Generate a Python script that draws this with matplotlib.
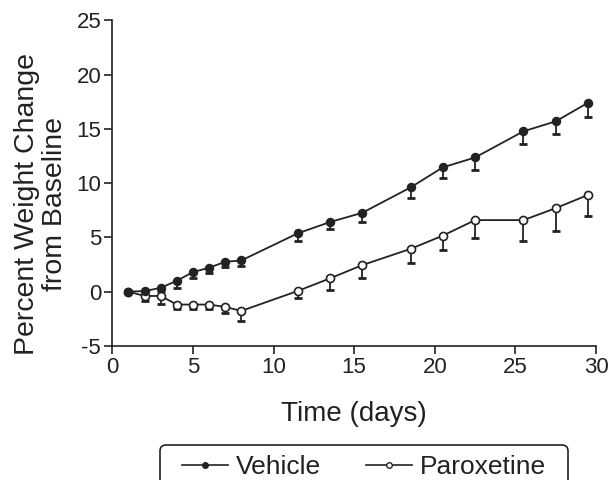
import matplotlib
matplotlib.use("Agg")
import matplotlib.pyplot as plt
from matplotlib.lines import Line2D
from matplotlib.patches import FancyBboxPatch
from matplotlib.transforms import IdentityTransform

plt.rcParams['font.family'] = ['Liberation Sans', 'DejaVu Sans']
plt.rcParams['axes.unicode_minus'] = False

days = [1, 2, 3, 4, 5, 6, 7, 8, 11.5, 13.5, 15.5, 18.5, 20.5, 22.5, 25.5, 27.5, 29.5]
vehicle = [0.0, 0.05, 0.35, 1.0, 1.8, 2.2, 2.75, 2.87, 5.37, 6.41, 7.26, 9.6, 11.45, 12.36, 14.77, 15.69, 17.4]
vehicle_err = [0.0, 0.0, 0.3, 0.7, 0.58, 0.49, 0.52, 0.49, 0.73, 0.67, 0.8, 1.0, 0.98, 1.13, 1.13, 1.13, 1.31]
parox = [0.0, -0.4, -0.4, -1.19, -1.19, -1.19, -1.41, -1.78, 0.06, 1.22, 2.44, 3.94, 5.16, 6.59, 6.59, 7.69, 8.91]
parox_err = [0.0, 0.46, 0.7, 0.43, 0.43, 0.37, 0.55, 0.89, 0.67, 1.07, 1.22, 1.31, 1.34, 1.62, 1.95, 2.14, 1.95]

xticks = [0, 5, 10, 15, 20, 25, 30]
yticks = [-5, 0, 5, 10, 15, 20, 25]

INK = '#222222'

fig = plt.figure(figsize=(6.11, 4.8), dpi=100)
ax = fig.add_axes([0.1838, 0.2794, 0.7917, 0.6783])

zero = [0] * len(days)
ax.errorbar(days, parox, yerr=[parox_err, zero], fmt='none', ecolor=INK,
            elinewidth=1.3, capsize=3.0, capthick=2.0, zorder=2)
ax.errorbar(days, vehicle, yerr=[vehicle_err, zero], fmt='none', ecolor=INK,
            elinewidth=1.3, capsize=3.0, capthick=2.0, zorder=2)
ax.plot(days, parox, '-o', color=INK, mfc='white', mec=INK, mew=1.2,
        ms=5.8, lw=1.3, zorder=3)
ax.plot(days, vehicle, '-o', color=INK, mfc=INK, mec=INK,
        ms=5.8, lw=1.3, zorder=4)

ax.set_xlim(0, 30)
ax.set_ylim(-5, 25)
ax.set_xticks(xticks)
ax.set_yticks(yticks)
ax.spines['top'].set_visible(False)
ax.spines['right'].set_visible(False)
for s in ['left', 'bottom']:
    ax.spines[s].set_linewidth(1.2)
    ax.spines[s].set_color(INK)
ax.tick_params(direction='out', length=6, width=1.2, labelsize=16, colors=INK,
               labelcolor=INK, pad=2)

ax.set_xlabel('Time (days)', fontsize=20, color=INK)
ax.xaxis.set_label_coords(0.5, -0.17)
ax.set_ylabel('Percent Weight Change\nfrom Baseline', fontsize=20.5, color=INK,
              linespacing=1.08)
ax.yaxis.set_label_coords(-0.092, 0.435)

handles = [
    Line2D([], [], color=INK, marker='o', mfc=INK, mec=INK, ms=4, lw=1.2),
    Line2D([], [], color=INK, marker='o', mfc='white', mec=INK, ms=4, mew=1.0, lw=1.2),
]
leg = fig.legend(handles, ['Vehicle', 'Paroxetine'], loc='upper left',
                 bbox_to_anchor=(182 / 611, 1 - 455 / 480), ncol=2, fontsize=19,
                 frameon=False, handlelength=1.74, columnspacing=1.7,
                 handletextpad=0.3, borderpad=0.0, borderaxespad=0.0)
for t in leg.get_texts():
    t.set_color(INK)

box = FancyBboxPatch((160, -10), 408, 45, boxstyle='round,pad=0,rounding_size=6',
                     transform=IdentityTransform(), facecolor='none', edgecolor=INK,
                     linewidth=1.2)
fig.patches.append(box)

fig.savefig('out.png', dpi=100)
